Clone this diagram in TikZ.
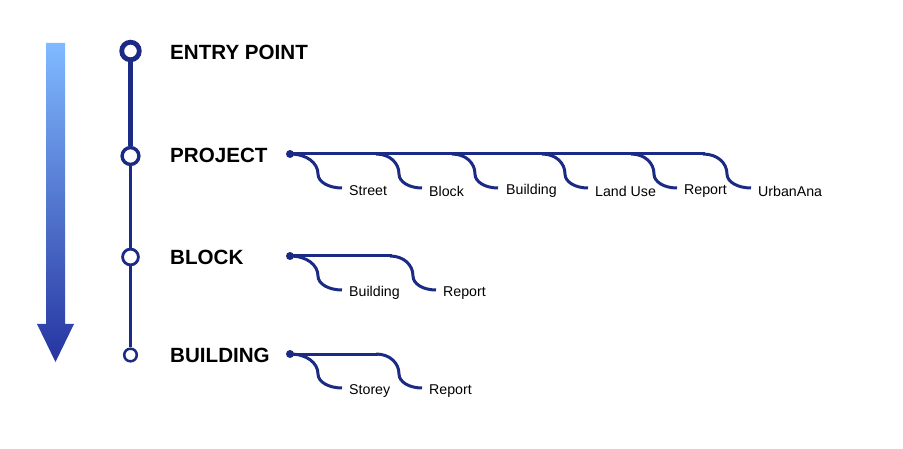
\documentclass[tikz,border=0pt]{standalone}
\usepackage{fontspec}
\setmainfont{Liberation Sans}
\definecolor{navy}{HTML}{1B2A84}
\definecolor{arrtop}{HTML}{80BAFF}
\definecolor{arrmid}{HTML}{4868F4}
\definecolor{arrbot}{HTML}{2634A0}
\tikzset{
  head/.style={anchor=west, inner sep=0pt, font=\fontsize{20.6}{24}\selectfont\bfseries, text=black},
  lbl/.style={anchor=west, inner sep=0pt, font=\fontsize{14.2}{16}\selectfont, text=black},
  ring/.style={circle, draw=navy, fill=white, inner sep=0pt},
  bdot/.style={circle, fill=navy, inner sep=0pt, minimum size=8pt},
  branch/.style={draw=navy, line width=3pt},
}
% #1 = y0, #2 = xs, #3 = xm, #4 = xe
\newcommand\mybranch[4]{%
  \draw[branch] (#2,#1) .. controls ({#2+0.6*(#3-#2)},#1) and (#3,{#1+9}) .. (#3,{#1+20})
     .. controls (#3,{#1+28}) and ({#4-0.55*(#4-#3)},{#1+34}) .. (#4,{#1+34});}
\begin{document}
\begin{tikzpicture}[x=1pt,y=-1pt]
\useasboundingbox (0,0) rectangle (903,449);
% gradient arrow
\shade[top color=arrtop, middle color=arrmid, bottom color=arrbot]
  (46,43) -- (65,43) -- (65,324) -- (74,324) -- (55.5,362) -- (37,324) -- (46,324) -- cycle;
% timeline
\node[ring, line width=4.8pt, minimum size=17.6pt] (e) at (130.5,51) {};
\node[ring, line width=3.4pt, minimum size=16.8pt] (p) at (130.5,156) {};
\node[ring, line width=2.8pt, minimum size=15.8pt] (b) at (130.5,257) {};
\node[ring, line width=2.5pt, minimum size=12.6pt] (g) at (130.5,355) {};
\draw[navy, line width=4.8pt] (e) -- (p);
\draw[navy, line width=3.3pt] (p) -- (b);
\draw[navy, line width=2.7pt] (b) -- (g);
% headings
\node[head] (he) at (170,52) {ENTRY POINT};
\node[head] (hp) at (170,155) {PROJECT};
\node[head] (hb) at (170,257) {BLOCK};
\node[head] (hg) at (170,355) {BUILDING};
% project branches
\node[bdot] (pd) at (290,154) {};
\draw[branch] (pd.center) -- (705,154);
\mybranch{154}{290}{318}{342}
\mybranch{154}{376}{399}{422}
\mybranch{154}{452}{475}{498}
\mybranch{154}{542}{565}{588}
\mybranch{154}{631}{654}{677}
\mybranch{154}{703}{727}{751}
\node[lbl] (p1) at (349,191) {Street};
\node[lbl] (p2) at (429,191) {Block};
\node[lbl] (p3) at (506,191) {Building};
\node[lbl] (p4) at (595,191) {Land Use};
\node[lbl] (p5) at (684,191) {Report};
\node[lbl] (p6) at (758,191) {UrbanAna};
% block branches
\node[bdot] (bd) at (290,256) {};
\draw[branch] (bd.center) -- (392,256);
\mybranch{256}{290}{318}{342}
\mybranch{256}{390}{413}{436}
\node[lbl] (b1) at (349,293) {Building};
\node[lbl] (b2) at (443,293) {Report};
% building branches
\node[bdot] (gd) at (290,354) {};
\draw[branch] (gd.center) -- (378,354);
\mybranch{354}{290}{318}{342}
\mybranch{354}{376}{399}{422}
\node[lbl] (g1) at (349,391) {Storey};
\node[lbl] (g2) at (429,391) {Report};
\end{tikzpicture}
\end{document}
